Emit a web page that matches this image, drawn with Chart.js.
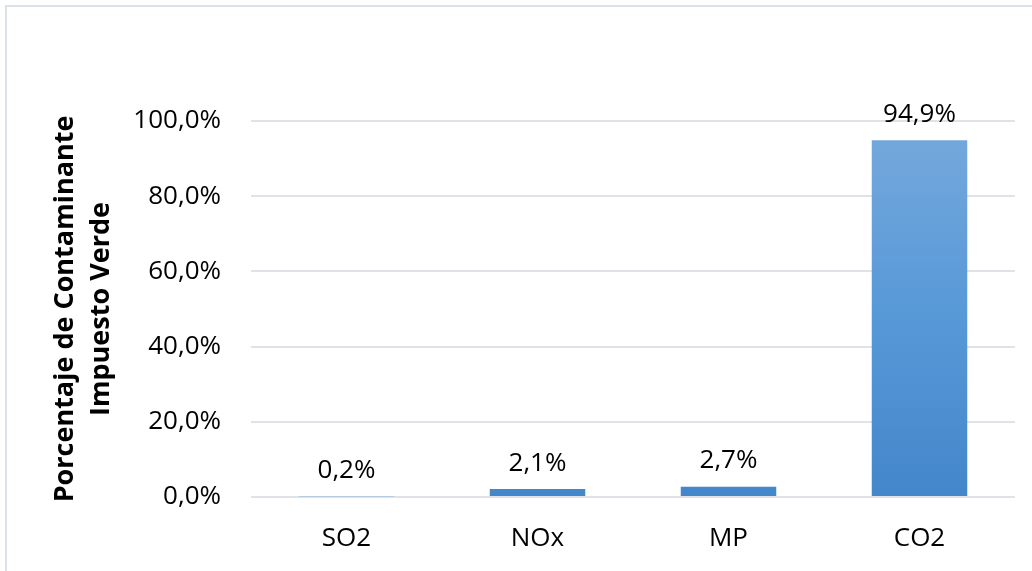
<!DOCTYPE html>
<html>
<head>
<meta charset="utf-8">
<script src="https://cdn.jsdelivr.net/npm/chart.js@4.4.1/dist/chart.umd.min.js"></script>
<style>
  html, body { margin: 0; padding: 0; background: #ffffff; }
  #wrap { position: relative; width: 1032px; height: 571px; overflow: hidden; }
  #frame { position: absolute; left: 5px; top: 5px; width: 1100px; height: 700px;
           border-top: 2px solid #dde1e8; border-left: 2px solid #dde1e8; }
  #c { position: absolute; left: 0; top: 0; }
</style>
</head>
<body>
<div id="wrap">
  <div id="frame"></div>
  <canvas id="c" width="1032" height="571"></canvas>
</div>
<script>
const categories = ['SO2', 'NOx', 'MP', 'CO2'];
const values = [0.2, 2.1, 2.7, 94.9];
const valueLabels = ['0,2%', '2,1%', '2,7%', '94,9%'];
const yTicks = [0, 20, 40, 60, 80, 100];
const yTitle = ['Porcentaje de Contaminante', 'Impuesto Verde'];

const FONT = "'Open Sans', 'Liberation Sans', sans-serif";

function fmtPct(v) {
  return v.toFixed(1).replace('.', ',') + '%';
}

const labelPlugin = {
  id: 'valueLabels',
  afterDatasetsDraw(chart) {
    const ctx = chart.ctx;
    const meta = chart.getDatasetMeta(0);
    ctx.save();
    ctx.font = "26px " + FONT;
    ctx.fillStyle = '#000000';
    ctx.textAlign = 'center';
    ctx.textBaseline = 'middle';
    meta.data.forEach((bar, i) => {
      ctx.fillText(valueLabels[i], bar.x, bar.y - 26);
    });
    ctx.restore();
  }
};

new Chart(document.getElementById('c'), {
  type: 'bar',
  data: {
    labels: categories,
    datasets: [{
      data: values,
      backgroundColor(context) {
        const { chart } = context;
        const area = chart.chartArea;
        if (!area) return '#5b9bd5';
        const g = chart.ctx.createLinearGradient(0, area.top, 0, area.bottom);
        g.addColorStop(0, '#76a9dc');
        g.addColorStop(0.5, '#5899d8');
        g.addColorStop(1, '#4386ca');
        return g;
      },
      borderWidth: 0,
      barPercentage: 0.5,
      categoryPercentage: 1.0
    }]
  },
  options: {
    responsive: false,
    animation: false,
    events: [],
    layout: { padding: { left: 47, top: 121, right: 17, bottom: 0 } },
    plugins: {
      legend: { display: false },
      tooltip: { enabled: false }
    },
    scales: {
      x: {
        grid: { display: false, drawTicks: false },
        border: { display: false },
        ticks: {
          color: '#000000',
          font: { family: FONT, size: 26 },
          padding: 26
        },
        afterFit(scale) { scale.height = 74; }
      },
      y: {
        min: 0,
        max: 100,
        afterBuildTicks(scale) {
          scale.ticks = yTicks.map(v => ({ value: v }));
        },
        grid: { color: '#dfe3e8', lineWidth: 2, drawTicks: false },
        border: { display: false },
        ticks: {
          color: '#000000',
          font: { family: FONT, size: 26 },
          padding: 30,
          callback: (v) => fmtPct(v)
        },
        title: {
          display: true,
          text: yTitle,
          color: '#000000',
          font: { family: FONT, size: 27, weight: 'bold', lineHeight: 1.333 },
          padding: 0
        },
        afterFit(scale) { scale.width = 204; }
      }
    }
  },
  plugins: [labelPlugin]
});
</script>
</body>
</html>
